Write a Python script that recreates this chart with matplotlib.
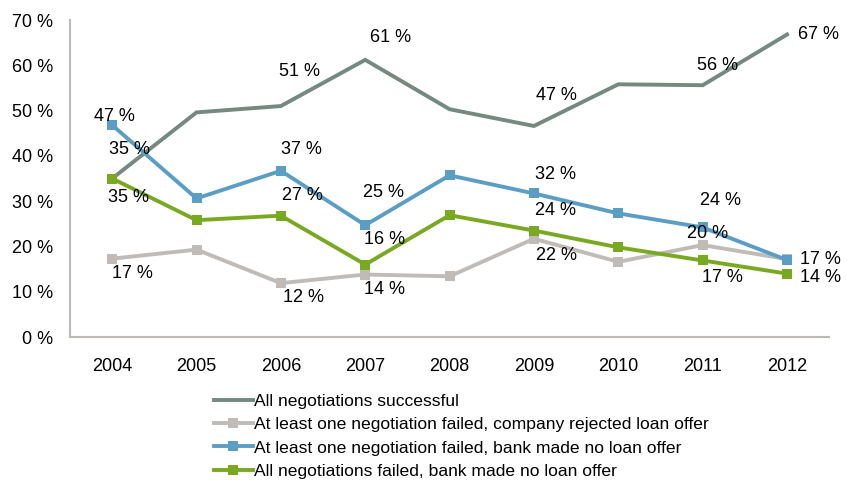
import matplotlib
matplotlib.use("Agg")
import matplotlib.pyplot as plt
from matplotlib.ticker import FuncFormatter

plt.rcParams['font.family'] = ['Liberation Sans', 'DejaVu Sans']

# survey years and shares of firms (%)
years = ['2004', '2005', '2006', '2007', '2008', '2009', '2010', '2011', '2012']
successful = [35.0, 49.6, 51.0, 61.2, 50.3, 46.6, 55.8, 55.6, 66.8]
company_rejected = [17.3, 19.3, 11.9, 13.8, 13.4, 21.7, 16.6, 20.3, 17.2]
bank_no_offer_some = [46.8, 30.6, 36.7, 24.7, 35.7, 31.7, 27.3, 24.2, 17.0]
bank_no_offer_all = [35.0, 25.8, 26.8, 16.0, 26.9, 23.5, 19.8, 16.9, 14.0]

names = ['All negotiations successful',
         'At least one negotiation failed, company rejected loan offer',
         'At least one negotiation failed, bank made no loan offer',
         'All negotiations failed, bank made no loan offer']

# label offsets in pixels (dx, dy) for each point, None = no label
label_offsets = [
    [(17, 29), None, (19, 35), (25, 22), None, (22, 30), None, (15, 20), (31, 0)],
    [(20, -15), None, (23, -14), (19, -15), None, (23, -17), None, (5, 12), None],
    [(2, 9), None, (21, 21), (18, 33), None, (22, 19), None, (18, 27), (33, 1)],
    [(16, -19), None, (22, 20), (19, 25), None, (22, 20), None, (20, -17), (33, -4)],
]

colors = ['#74897F', '#C0BBB7', '#5B9EC5', '#79A921']
markers = [None, 's', 's', 's']

fig = plt.figure(figsize=(8.47, 4.82), dpi=100)
ax = fig.add_axes([0.0826, 0.3008, 0.8964, 0.6577])

x = list(range(len(years)))
series = [successful, company_rejected, bank_no_offer_some, bank_no_offer_all]
for vals, name, col, mk, offs in zip(series, names, colors, markers, label_offsets):
    ax.plot(x, vals, color=col, lw=2.8, marker=mk, markersize=6.5,
            markeredgewidth=0, label=name, solid_joinstyle='miter')
    for xi, v, off in zip(x, vals, offs):
        if off is None:
            continue
        ax.annotate(f"{v:.0f} %", (xi, v), xytext=off, textcoords='offset pixels',
                    ha='center', va='center', fontsize=13, color='black')

ax.set_xlim(-0.5, len(years) - 0.5)
ax.set_ylim(0, 70)
ax.set_yticks(range(0, 71, 10))
ax.yaxis.set_major_formatter(FuncFormatter(lambda v, p: f"{v:.0f} %"))
ax.set_xticks(x)
ax.set_xticklabels(years)
ax.tick_params(axis='both', length=0, labelsize=13)
ax.tick_params(axis='y', pad=12)
ax.tick_params(axis='x', pad=15)

for s in ['top', 'right']:
    ax.spines[s].set_visible(False)
for s in ['left', 'bottom']:
    ax.spines[s].set_color('#BDB9B5')
    ax.spines[s].set_linewidth(1.5)

fig.legend(loc='upper left', bbox_to_anchor=(214 / 847, 1 - 394 / 482),
           frameon=False, fontsize=12.6, handlelength=2.2, handletextpad=0.1,
           labelspacing=0.45, borderaxespad=0, borderpad=0)

plt.savefig('out.png', dpi=100)
